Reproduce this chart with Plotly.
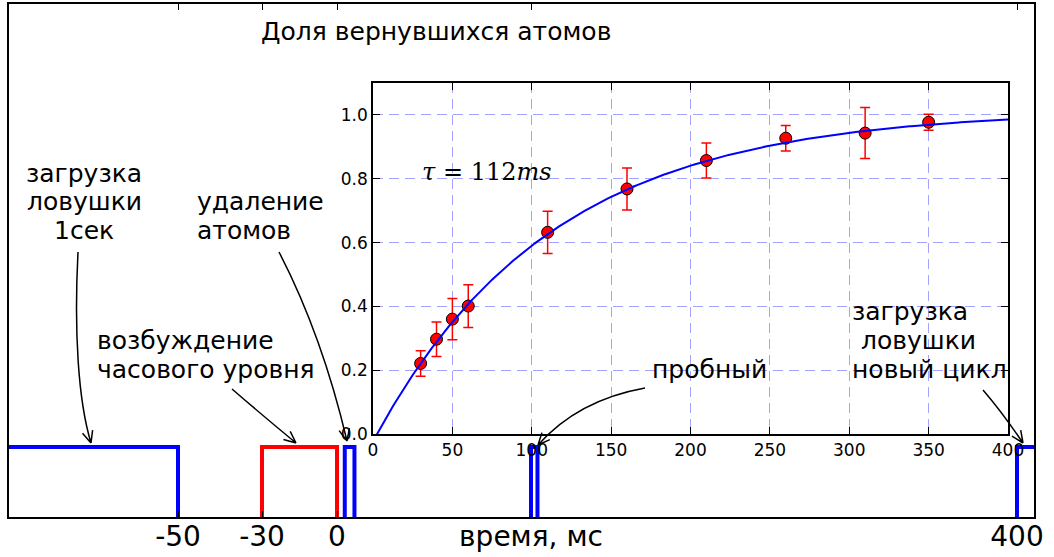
import numpy as np
import plotly.graph_objects as go

# Fraction of atoms recaptured vs. dark time (ms)
t_ms = [30, 40, 50, 60, 110, 160, 210, 260, 310, 350]
frac = [0.221, 0.297, 0.360, 0.401, 0.632, 0.768, 0.857, 0.927, 0.943, 0.977]
frac_err = [0.040, 0.054, 0.065, 0.067, 0.066, 0.066, 0.055, 0.040, 0.080, 0.025]

# Exponential recovery fit: A * (1 - exp(-(t - t0) / tau))
tau_ms = 112
fit_amp = 1.015
fit_t0 = 2.5

inset_xticks = [0, 50, 100, 150, 200, 250, 300, 350, 400]
inset_yticks = [0.0, 0.2, 0.4, 0.6, 0.8, 1.0]
inset_yticklabels = ["0.0", "0.2", "0.4", "0.6", "0.8", "1.0"]

# Timing sequence (ms): [start, end] of each pulse
load_pulse = [-1050, -50]
clock_pulse = [-30, 0]
removal_pulse = [4, 9]
probe_pulse = [100, 104]
reload_pulse = [400, 410]
seq_tickvals = [-50, -30, 0, 100, 400]
seq_ticktext = ["-50", "-30", "0", "время, мс", "400"]

# The sequence axis is schematic: time is warped piecewise onto it
seq_knots_ms = [-1050, -50, -30, 0, 100, 400, 410]
seq_knots_pos = [0, 169, 253, 328, 522, 1008, 1025]


def warp(t):
    return [float(v) for v in np.interp(t, seq_knots_ms, seq_knots_pos)]


W, H = 1054, 557
ML, MR, MT, MB = 9, 20, 4, 40
PW, PH = W - ML - MR, H - MT - MB
PULSE_PX = 70


def px(x):
    return (x - ML) / PW


def py(y):
    return (H - MB - y) / PH


def join(segments):
    xs, ys = [], []
    for sx, sy in segments:
        if xs:
            xs.append(None)
            ys.append(None)
        xs += warp(sx)
        ys += sy
    return xs, ys


blue_x, blue_y = join([
    ([load_pulse[0], load_pulse[1], load_pulse[1]], [1, 1, 0]),
    ([removal_pulse[0], removal_pulse[0], removal_pulse[1], removal_pulse[1]], [0, 1, 1, 0]),
    ([probe_pulse[0], probe_pulse[0], probe_pulse[1], probe_pulse[1]], [0, 1, 1, 0]),
    ([reload_pulse[0], reload_pulse[0], reload_pulse[1]], [0, 1, 1]),
])
red_x, red_y = join([
    ([clock_pulse[0], clock_pulse[0], clock_pulse[1], clock_pulse[1]], [0, 1, 1, 0]),
])

t_fit = np.linspace(0, 400, 401)
y_fit = fit_amp * (1 - np.exp(-(t_fit - fit_t0) / tau_ms))

fig = go.Figure()
fig.add_trace(go.Scatter(x=blue_x, y=blue_y, mode="lines",
                         line=dict(color="#0000ff", width=4),
                         xaxis="x", yaxis="y", hoverinfo="skip"))
fig.add_trace(go.Scatter(x=red_x, y=red_y, mode="lines",
                         line=dict(color="#ff0000", width=4),
                         xaxis="x", yaxis="y", hoverinfo="skip"))

fig.add_trace(go.Scatter(
    x=t_ms, y=frac, mode="markers", xaxis="x2", yaxis="y2",
    marker=dict(size=12, color="#ff0000", line=dict(color="black", width=1)),
    error_y=dict(type="data", array=frac_err, color="#ff0000", thickness=1.5, width=5),
))
fig.add_trace(go.Scatter(x=t_fit, y=y_fit, mode="lines", xaxis="x2", yaxis="y2",
                         line=dict(color="#0000ff", width=2)))

font_sans = "DejaVu Sans"
grid_col = "rgba(90,90,255,0.55)"

fig.update_layout(
    width=W, height=H,
    margin=dict(l=ML, r=MR, t=MT, b=MB, autoexpand=False),
    paper_bgcolor="white", plot_bgcolor="white",
    showlegend=False,
    xaxis=dict(
        domain=[0, 1], range=[0, PW], automargin=False,
        tickvals=warp(seq_tickvals), ticktext=seq_ticktext,
        ticks="inside", ticklen=6, tickwidth=1, tickcolor="black",
        showline=True, linecolor="black", linewidth=2, mirror="ticks",
        showgrid=False, zeroline=False, ticklabelstandoff=-7,
        tickfont=dict(family=font_sans, size=28, color="black"),
    ),
    yaxis=dict(
        domain=[0, 1], range=[0, PH / PULSE_PX], automargin=False,
        showticklabels=False, ticks="",
        showline=True, linecolor="black", linewidth=2, mirror=True,
        showgrid=False, zeroline=False,
    ),
    xaxis2=dict(
        domain=[px(373), px(1008)], anchor="y2", range=[0, 400], automargin=False,
        tickvals=inset_xticks,
        ticks="inside", ticklen=7, tickwidth=1, tickcolor="black",
        showline=True, linecolor="black", linewidth=1.5, mirror="ticks",
        showgrid=True, gridcolor=grid_col, gridwidth=1, griddash="10px,6px",
        zeroline=False,
        tickfont=dict(family=font_sans, size=17, color="black"),
    ),
    yaxis2=dict(
        domain=[py(434), py(83)], anchor="x2", range=[0, 1.1], automargin=False,
        tickvals=inset_yticks, ticktext=inset_yticklabels,
        ticks="inside", ticklen=7, tickwidth=1, tickcolor="black",
        showline=True, linecolor="black", linewidth=1.5, mirror="ticks",
        showgrid=True, gridcolor=grid_col, gridwidth=1, griddash="10px,6px",
        zeroline=False,
        tickfont=dict(family=font_sans, size=17, color="black"),
    ),
)

# Text labels (one annotation per line)
labels = [
    ("Доля вернувшихся атомов", 436, 31, "center"),
    ("загрузка", 84, 173, "center"),
    ("ловушки", 84, 201, "center"),
    ("1сек", 84, 230, "center"),
    ("удаление", 195, 201, "left"),
    ("атомов", 195, 230, "left"),
    ("возбуждение", 95, 340, "left"),
    ("часового уровня", 95, 369, "left"),
    ("пробный", 650, 369, "left"),
    ("загрузка", 850, 311, "left"),
    ("ловушки", 859, 340, "left"),
    ("новый цикл", 850, 369, "left"),
]
for text, x, y, anchor in labels:
    fig.add_annotation(text=text, xref="paper", yref="paper", x=px(x), y=py(y),
                       xanchor=anchor, yanchor="middle", showarrow=False,
                       font=dict(family=font_sans, size=25, color="black"))

fig.add_annotation(text="<i>τ</i> = 112<i>ms</i>", xref="paper", yref="paper",
                   x=px(487), y=py(172), xanchor="center", yanchor="middle",
                   showarrow=False,
                   font=dict(family="DejaVu Serif", size=24, color="black"))

# Curved pointer arrows (pixel coords -> paper coords)
arrows = [
    [(78, 252), (74, 330), (78, 400), (91, 443)],
    [(279, 252), (322, 335), (347, 441)],
    [(232, 389), (262, 415), (296, 443)],
    [(645, 388), (578, 400), (538, 445)],
    [(983, 390), (1002, 412), (1023, 443)],
]


def P(x, y):
    return f"{px(x):.5f},{py(y):.5f}"


for pts in arrows:
    if len(pts) == 4:
        path = f"M {P(*pts[0])} C {P(*pts[1])} {P(*pts[2])} {P(*pts[3])}"
    else:
        path = f"M {P(*pts[0])} Q {P(*pts[1])} {P(*pts[2])}"
    tx, ty = pts[-1]
    cx, cy = pts[-2]
    d = np.array([tx - cx, ty - cy], dtype=float)
    d /= np.linalg.norm(d)
    for ang in (np.radians(24), -np.radians(24)):
        r = np.array([[np.cos(ang), -np.sin(ang)], [np.sin(ang), np.cos(ang)]])
        b = r @ (-d) * 13
        path += f" M {P(tx, ty)} L {P(tx + b[0], ty + b[1])}"
    fig.add_shape(type="path", path=path, xref="paper", yref="paper",
                  line=dict(color="black", width=1.5))

fig.write_html("out.html")
